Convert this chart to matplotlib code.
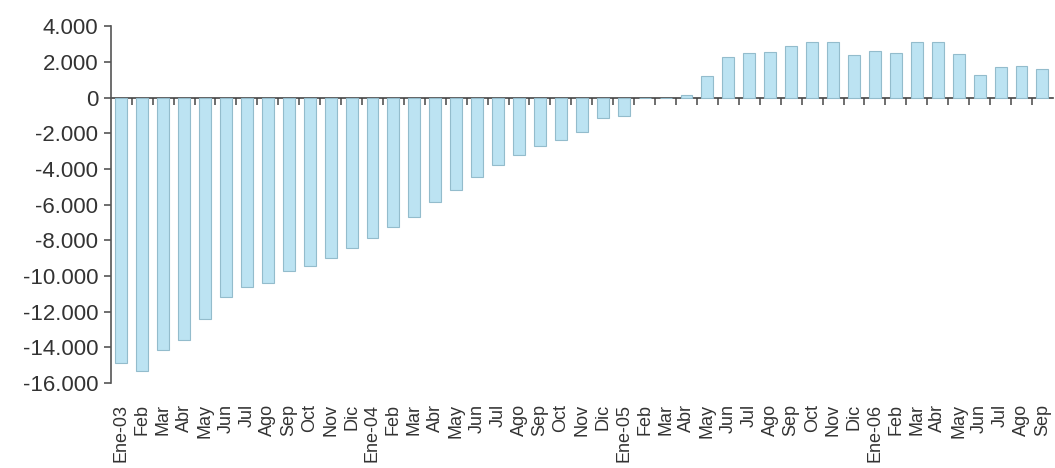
import numpy as np
import matplotlib
matplotlib.use("Agg")
import matplotlib.pyplot as plt
from matplotlib.ticker import FuncFormatter

plt.rcParams["font.family"] = ["Liberation Sans", "DejaVu Sans"]

# monthly balance, Jan 2003 - Sep 2006
months = [
    "Ene-03", "Feb", "Mar", "Abr", "May", "Jun", "Jul", "Ago", "Sep", "Oct", "Nov", "Dic",
    "Ene-04", "Feb", "Mar", "Abr", "May", "Jun", "Jul", "Ago", "Sep", "Oct", "Nov", "Dic",
    "Ene-05", "Feb", "Mar", "Abr", "May", "Jun", "Jul", "Ago", "Sep", "Oct", "Nov", "Dic",
    "Ene-06", "Feb", "Mar", "Abr", "May", "Jun", "Jul", "Ago", "Sep",
]
saldo_2003 = [-14900, -15350, -14150, -13600, -12400, -11200,
              -10600, -10400, -9750, -9450, -9000, -8450]
saldo_2004 = [-7900, -7250, -6680, -5850, -5200, -4450,
              -3800, -3220, -2720, -2400, -1950, -1170]
saldo_2005 = [-1030, 0, 0, 150, 1200, 2300,
              2500, 2580, 2900, 3120, 3120, 2400]
saldo_2006 = [2620, 2500, 3120, 3120, 2420, 1260, 1700, 1780, 1620]
saldo = saldo_2003 + saldo_2004 + saldo_2005 + saldo_2006

y_ticks = list(range(-16000, 4001, 2000))


def miles(v, _pos):
    return f"{v:,.0f}".replace(",", ".")


fig = plt.figure(figsize=(10.55, 4.68), dpi=100)
ax = fig.add_axes([0.105, 0.182, 0.893, 0.762])

x = np.arange(len(months))
ax.bar(x, saldo, width=0.57, color="#bce3f2", edgecolor="#93bccc", linewidth=0.8)

ax.set_xlim(-0.5, len(months) - 0.5)
ax.set_ylim(y_ticks[0], y_ticks[-1])
ax.set_yticks(y_ticks)
ax.yaxis.set_major_formatter(FuncFormatter(miles))
ax.tick_params(axis="y", length=5, width=1.2, color="#555555",
               labelsize=16, labelcolor="#333333", pad=4)

ax.set_xticks(x, months)
ax.tick_params(axis="x", length=0, pad=15, labelsize=13,
               labelcolor="#333333", labelrotation=90)

for side in ("top", "right", "bottom"):
    ax.spines[side].set_visible(False)
ax.spines["left"].set_color("#555555")
ax.spines["left"].set_linewidth(1.2)

# category axis crossing at zero, ticks between months
zero = ax.secondary_xaxis(0, transform=ax.transData)
zero.set_xticks(x[:-1] + 0.5, [""] * (len(x) - 1))
zero.tick_params(axis="x", direction="out", length=5, width=1.2, color="#555555")
zero.spines["bottom"].set_color("#444444")
zero.spines["bottom"].set_linewidth(1.2)

fig.savefig("out.png", dpi=100)
